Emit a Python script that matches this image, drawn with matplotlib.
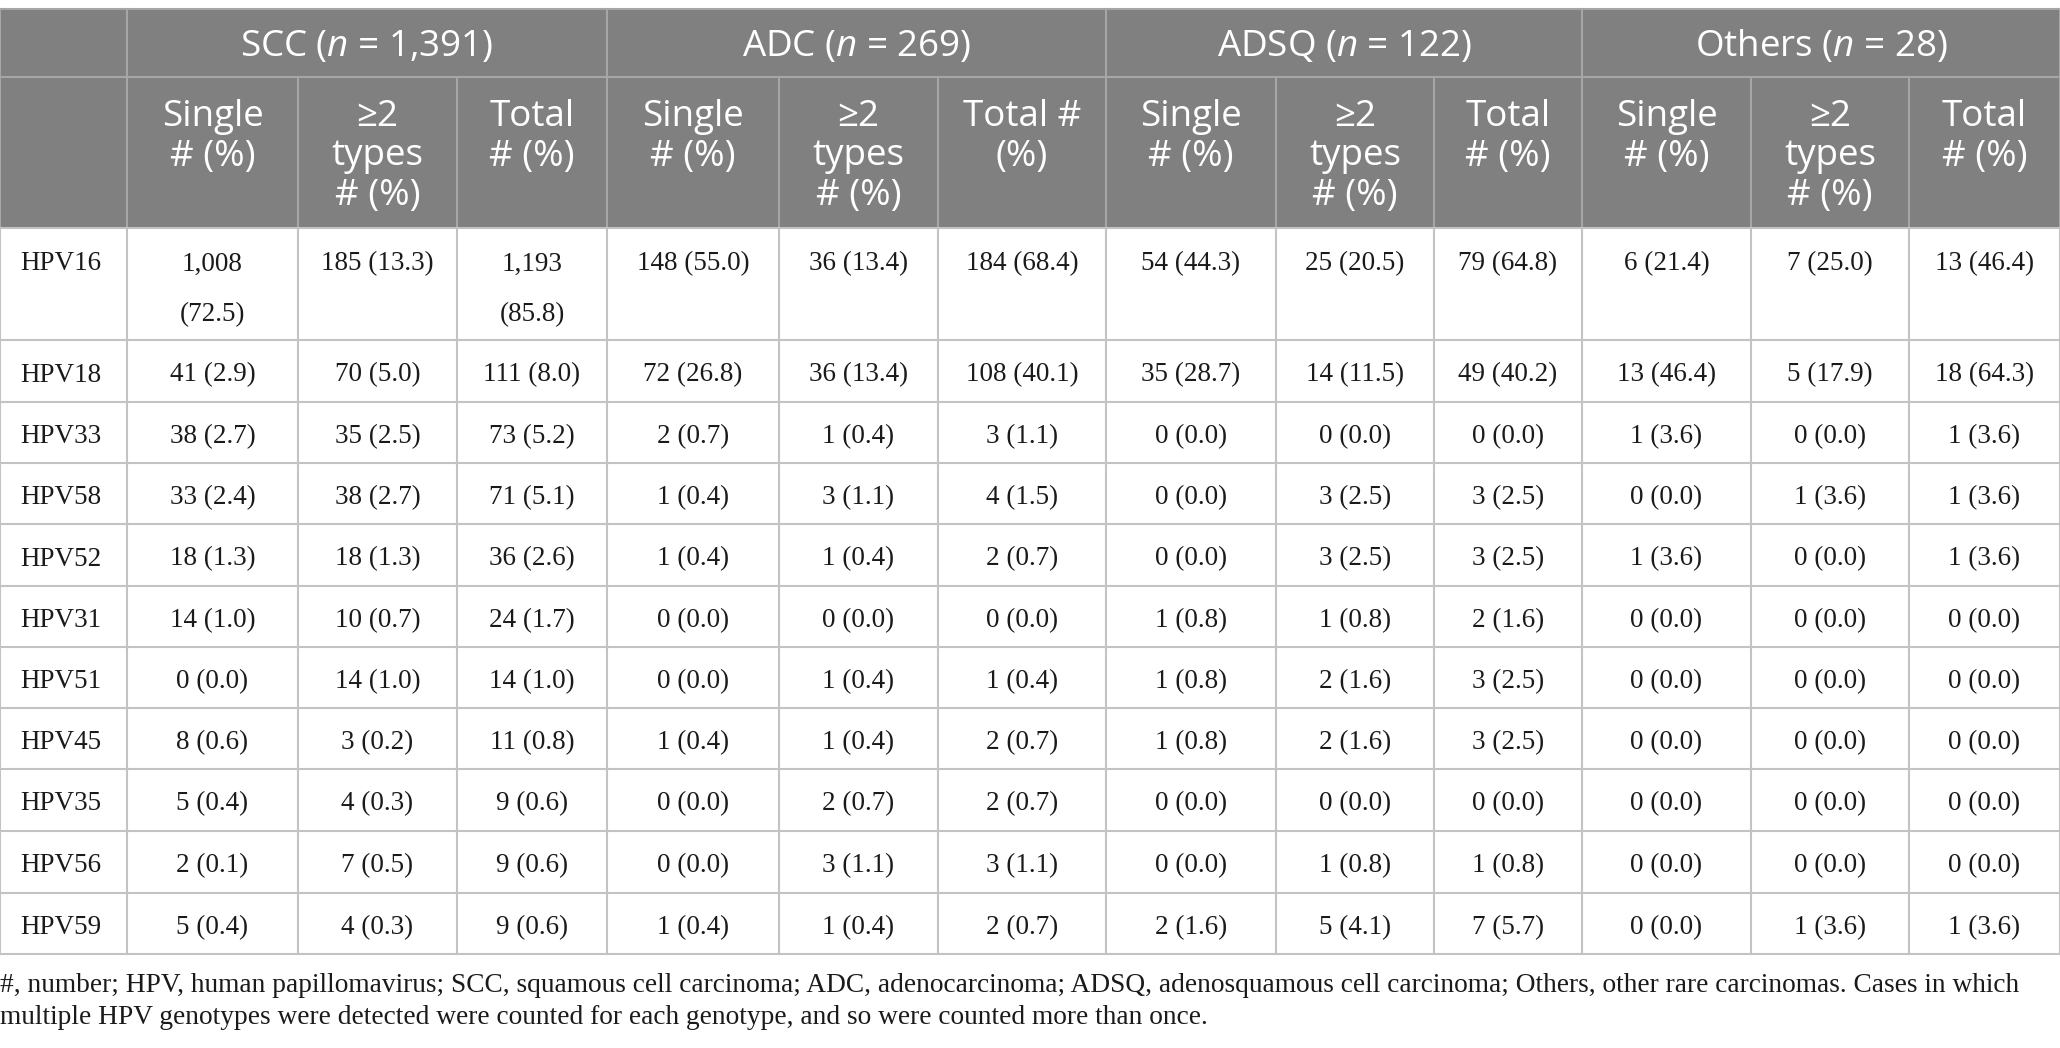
import matplotlib
matplotlib.use("Agg")
import matplotlib.pyplot as plt
from matplotlib.patches import Rectangle

plt.rcParams['mathtext.fontset'] = 'custom'
plt.rcParams['mathtext.rm'] = 'Open Sans'
plt.rcParams['mathtext.it'] = 'Open Sans:italic'

# data
genotypes = ['HPV16', 'HPV18', 'HPV33', 'HPV58', 'HPV52', 'HPV31',
             'HPV51', 'HPV45', 'HPV35', 'HPV56', 'HPV59']
groups = ['SCC ($n$ = 1,391)', 'ADC ($n$ = 269)', 'ADSQ ($n$ = 122)', 'Others ($n$ = 28)']
sub_labels = [
    ['Single\n# (%)', '≥2\ntypes\n# (%)', 'Total\n# (%)'],
    ['Single\n# (%)', '≥2\ntypes\n# (%)', 'Total #\n(%)'],
    ['Single\n# (%)', '≥2\ntypes\n# (%)', 'Total\n# (%)'],
    ['Single\n# (%)', '≥2\ntypes\n# (%)', 'Total\n# (%)'],
]

scc_single_n = [1008, 41, 38, 33, 18, 14, 0, 8, 5, 2, 5]
scc_single_p = [72.5, 2.9, 2.7, 2.4, 1.3, 1.0, 0.0, 0.6, 0.4, 0.1, 0.4]
scc_multi_n = [185, 70, 35, 38, 18, 10, 14, 3, 4, 7, 4]
scc_multi_p = [13.3, 5.0, 2.5, 2.7, 1.3, 0.7, 1.0, 0.2, 0.3, 0.5, 0.3]
scc_total_n = [1193, 111, 73, 71, 36, 24, 14, 11, 9, 9, 9]
scc_total_p = [85.8, 8.0, 5.2, 5.1, 2.6, 1.7, 1.0, 0.8, 0.6, 0.6, 0.6]

adc_single_n = [148, 72, 2, 1, 1, 0, 0, 1, 0, 0, 1]
adc_single_p = [55.0, 26.8, 0.7, 0.4, 0.4, 0.0, 0.0, 0.4, 0.0, 0.0, 0.4]
adc_multi_n = [36, 36, 1, 3, 1, 0, 1, 1, 2, 3, 1]
adc_multi_p = [13.4, 13.4, 0.4, 1.1, 0.4, 0.0, 0.4, 0.4, 0.7, 1.1, 0.4]
adc_total_n = [184, 108, 3, 4, 2, 0, 1, 2, 2, 3, 2]
adc_total_p = [68.4, 40.1, 1.1, 1.5, 0.7, 0.0, 0.4, 0.7, 0.7, 1.1, 0.7]

adsq_single_n = [54, 35, 0, 0, 0, 1, 1, 1, 0, 0, 2]
adsq_single_p = [44.3, 28.7, 0.0, 0.0, 0.0, 0.8, 0.8, 0.8, 0.0, 0.0, 1.6]
adsq_multi_n = [25, 14, 0, 3, 3, 1, 2, 2, 0, 1, 5]
adsq_multi_p = [20.5, 11.5, 0.0, 2.5, 2.5, 0.8, 1.6, 1.6, 0.0, 0.8, 4.1]
adsq_total_n = [79, 49, 0, 3, 3, 2, 3, 3, 0, 1, 7]
adsq_total_p = [64.8, 40.2, 0.0, 2.5, 2.5, 1.6, 2.5, 2.5, 0.0, 0.8, 5.7]

oth_single_n = [6, 13, 1, 0, 1, 0, 0, 0, 0, 0, 0]
oth_single_p = [21.4, 46.4, 3.6, 0.0, 3.6, 0.0, 0.0, 0.0, 0.0, 0.0, 0.0]
oth_multi_n = [7, 5, 0, 1, 0, 0, 0, 0, 0, 0, 1]
oth_multi_p = [25.0, 17.9, 0.0, 3.6, 0.0, 0.0, 0.0, 0.0, 0.0, 0.0, 3.6]
oth_total_n = [13, 18, 1, 1, 1, 0, 0, 0, 0, 0, 1]
oth_total_p = [46.4, 64.3, 3.6, 3.6, 3.6, 0.0, 0.0, 0.0, 0.0, 0.0, 3.6]

footnote = ('#, number; HPV, human papillomavirus; SCC, squamous cell carcinoma; ADC, adenocarcinoma; '
            'ADSQ, adenosquamous cell carcinoma; Others, other rare carcinomas. Cases in which\n'
            'multiple HPV genotypes were detected were counted for each genotype, and so were counted more than once.')

columns = [
    (scc_single_n, scc_single_p), (scc_multi_n, scc_multi_p), (scc_total_n, scc_total_p),
    (adc_single_n, adc_single_p), (adc_multi_n, adc_multi_p), (adc_total_n, adc_total_p),
    (adsq_single_n, adsq_single_p), (adsq_multi_n, adsq_multi_p), (adsq_total_n, adsq_total_p),
    (oth_single_n, oth_single_p), (oth_multi_n, oth_multi_p), (oth_total_n, oth_total_p),
]

# layout (pixel coords)
W, H = 2060, 1048
col_x = [0, 127, 298, 457, 607, 779, 938, 1106, 1276, 1434, 1582, 1751, 1909, 2060]
top, h1, h2 = 9, 77, 228
row_y = [228, 340, 402, 463, 524, 586, 647, 708, 769, 831, 893, 954]
hdr_bg = '#808080'
grid_c = '#c3c3c3'
hdr_line = '#a6a6a6'

fig = plt.figure(figsize=(W / 100, H / 100), dpi=100)
ax = fig.add_axes([0, 0, 1, 1])
ax.set_xlim(0, W)
ax.set_ylim(H, 0)
ax.axis('off')

ax.add_patch(Rectangle((0, top), W, h2 - top, color=hdr_bg, lw=0, zorder=0))

hfont = dict(family='Open Sans', color='white', fontsize=26.5)
bfont = dict(family='Liberation Serif', color='#1a1a1a', fontsize=19.5)

# header row 1
for g, name in enumerate(groups):
    x0, x1 = col_x[1 + 3 * g], col_x[4 + 3 * g]
    ax.text((x0 + x1) / 2, (top + h1) / 2 + 4, name, ha='center', va='center', **hfont)

# header row 2
for g in range(4):
    for k in range(3):
        c = 1 + 3 * g + k
        xc = (col_x[c] + col_x[c + 1]) / 2
        for i, line in enumerate(sub_labels[g][k].split('\n')):
            ax.text(xc, 117 + i * 39.5, line, ha='center', va='center', **hfont)

# header lines
ax.plot([0, W], [top, top], color=hdr_line, lw=1.5)
ax.plot([0, W], [h1, h1], color=hdr_line, lw=1.5)
for x in [0, col_x[1], col_x[4], col_x[7], col_x[10], W]:
    ax.plot([x, x], [top, h1], color=hdr_line, lw=1.5)
for x in col_x:
    ax.plot([x, x], [h1, h2], color=hdr_line, lw=1.5)

# body
for r, name in enumerate(genotypes):
    y0, y1 = row_y[r], row_y[r + 1]
    multi = (y1 - y0) > 80
    yc = y0 + 36 if multi else (y0 + y1) / 2 + 4
    ax.text(20, yc, name, ha='left', va='center', **bfont)
    for c, (ns, ps) in enumerate(columns):
        xc = (col_x[c + 1] + col_x[c + 2]) / 2
        cnt = f'{ns[r]:,}'
        pct = f'({ps[r]:.1f})'
        lines = [cnt, pct] if ns[r] >= 1000 else [f'{cnt} {pct}']
        for i, line in enumerate(lines):
            ax.text(xc, yc + i * 51, line, ha='center', va='center', **bfont)

for y in row_y:
    ax.plot([0, W], [y, y], color=grid_c, lw=1.5)
for x in col_x:
    ax.plot([x, x], [row_y[0], row_y[-1]], color=grid_c, lw=1.5)

# footnote
for i, line in enumerate(footnote.split('\n')):
    ax.text(0, 985 + i * 33, line, ha='left', va='center',
            family='Liberation Serif', color='#1a1a1a', fontsize=19.7)

fig.savefig('out.png', dpi=100)
